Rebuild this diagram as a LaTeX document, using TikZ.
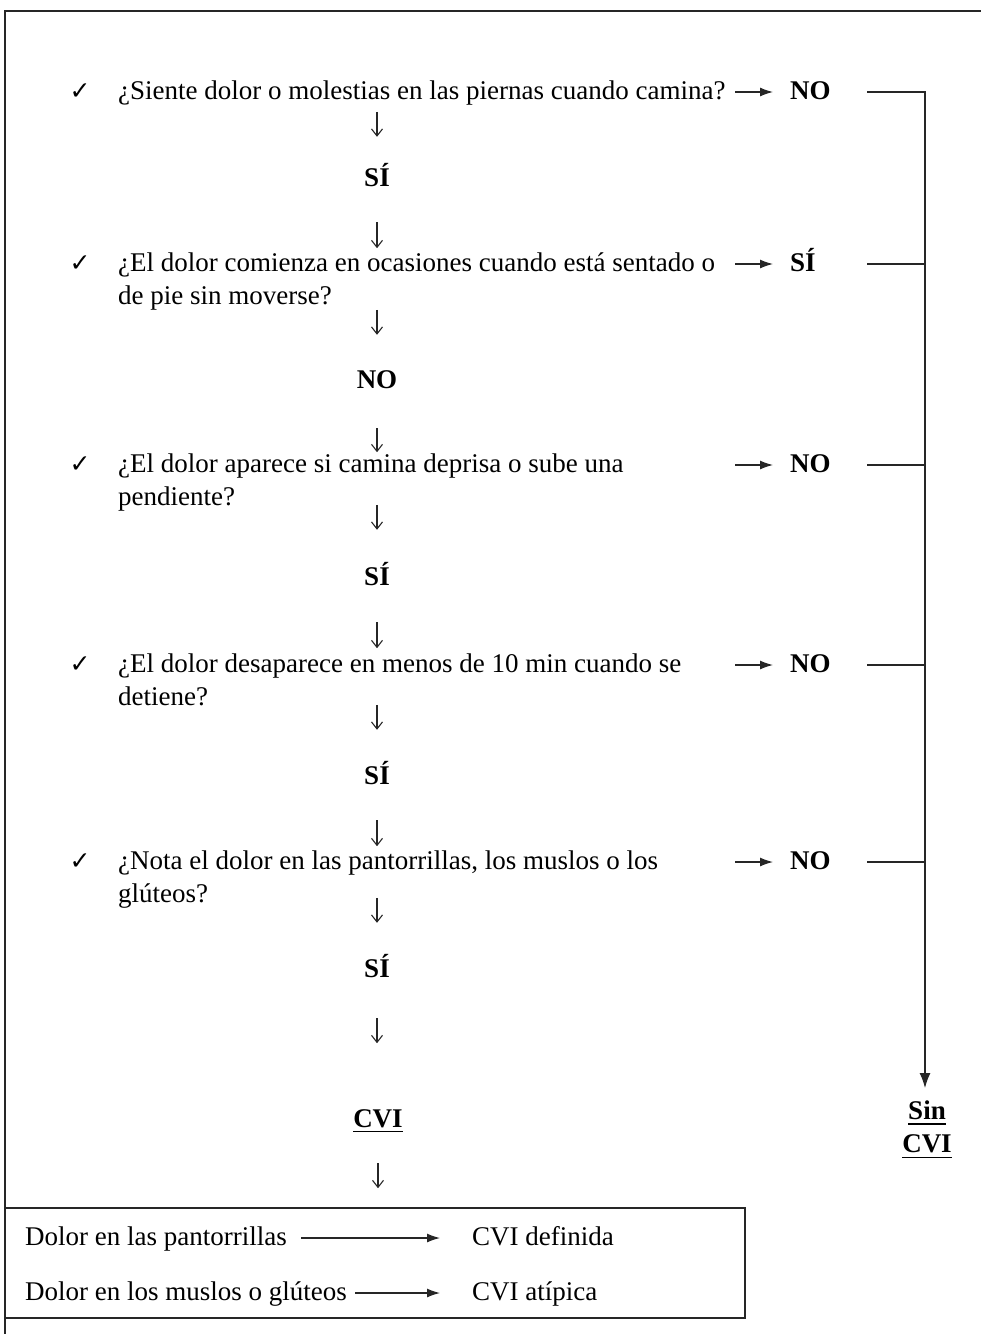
\documentclass[tikz,border=0pt]{standalone}
\usepackage{amsmath}
\usepackage{amssymb}
\usepackage{fontspec}
\setmainfont{Liberation Serif}
\newfontfamily\symbolfont{DejaVu Sans}
\usepackage{tikz}
\usetikzlibrary{arrows.meta}
\tikzset{
  txt/.style={inner sep=0pt,font=\fontsize{27}{33}\selectfont},
  question/.style={txt,anchor=base west,align=left},
  tick/.style={inner sep=0pt,anchor=base,font=\fontsize{25}{25}\selectfont\symbolfont},
  answer/.style={txt,anchor=base,text height=18pt,text depth=0pt,font=\fontsize{27}{33}\selectfont\bfseries},
  sideanswer/.style={answer,anchor=base west,text height=14pt,text depth=0pt},
  rowtext/.style={txt,anchor=base west,text height=14pt,text depth=0pt},
  frame/.style={line width=1.3pt,draw=black!85},
  link/.style={line width=1.2pt,draw=black!85},
  down/.style={line width=1.1pt,draw=black!85,-{Straight Barb[length=7pt,width=11pt]}},
  harrow/.style={link,-{Latex[length=13pt,width=9pt]}},
  varrow/.style={link,-{Latex[length=15pt,width=11pt]}}
}
\begin{document}
\begin{tikzpicture}[x=1pt,y=-1pt]
  \useasboundingbox (0,0) rectangle (981,1334);
  % outer frame
  \draw[frame] (5,1334) -- (5,11) -- (981,11);
  % questions
  \node[tick] (c1) at (80,99) {✓};
  \node[question] (q1) at (118,99) {¿Siente dolor o molestias en las piernas cuando camina?};
  \node[tick] (c2) at (80,271) {✓};
  \node[question] (q2) at (118,304) {¿El dolor comienza en ocasiones cuando está sentado o\\de pie sin moverse?};
  \node[tick] (c3) at (80,472) {✓};
  \node[question] (q3) at (118,505) {¿El dolor aparece si camina deprisa o sube una\\pendiente?};
  \node[tick] (c4) at (80,672) {✓};
  \node[question] (q4) at (118,705) {¿El dolor desaparece en menos de 10 min cuando se\\detiene?};
  \node[tick] (c5) at (80,869) {✓};
  \node[question] (q5) at (118,902) {¿Nota el dolor en las pantorrillas, los muslos o los\\glúteos?};
  % middle column
  \node[answer] (m1) at (377,186) {SÍ};
  \node[answer] (m2) at (377,388) {NO};
  \node[answer] (m3) at (377,585) {SÍ};
  \node[answer] (m4) at (377,784) {SÍ};
  \node[answer] (m5) at (377,977) {SÍ};
  \node[answer] (cvi) at (378,1127) {\underline{CVI}};
  \draw[down] ([yshift=56pt]m1.north) -- ([yshift=31pt]m1.north);
  \draw[down] ([yshift=-36pt]m1.south) -- ([yshift=-62pt]m1.south);
  \draw[down] ([yshift=60pt]m2.north) -- ([yshift=35pt]m2.north);
  \draw[down] ([yshift=-40pt]m2.south) -- ([yshift=-64pt]m2.south);
  \draw[down] ([yshift=62pt]m3.north) -- ([yshift=37pt]m3.north);
  \draw[down] ([yshift=-37pt]m3.south) -- ([yshift=-63pt]m3.south);
  \draw[down] ([yshift=61pt]m4.north) -- ([yshift=36pt]m4.north);
  \draw[down] ([yshift=-36pt]m4.south) -- ([yshift=-62pt]m4.south);
  \draw[down] ([yshift=61pt]m5.north) -- ([yshift=36pt]m5.north);
  \draw[down] ([yshift=-41pt]m5.south) -- ([yshift=-66pt]m5.south);
  \draw[down] ([yshift=-36pt]cvi.south) -- ([yshift=-61pt]cvi.south);
  % right column
  \node[sideanswer] (a1) at (790,99) {NO};
  \node[sideanswer] (a2) at (790,271) {SÍ};
  \node[sideanswer] (a3) at (790,472) {NO};
  \node[sideanswer] (a4) at (790,672) {NO};
  \node[sideanswer] (a5) at (790,869) {NO};
  \node[answer,text height=,text depth=,anchor=north,align=center] (sin) at (927,1101) {\underline{Sin}\\\underline{CVI}};
  \coordinate (rail) at ([xshift=135pt]a1.west);
  \draw[harrow] ([xshift=-55pt]a1.west) -- ([xshift=-17pt]a1.west);
  \draw[harrow] ([xshift=-55pt]a2.west) -- ([xshift=-17pt]a2.west);
  \draw[harrow] ([xshift=-55pt]a3.west) -- ([xshift=-17pt]a3.west);
  \draw[harrow] ([xshift=-55pt]a4.west) -- ([xshift=-17pt]a4.west);
  \draw[harrow] ([xshift=-55pt]a5.west) -- ([xshift=-17pt]a5.west);
  \draw[varrow,shorten >=13pt] ([xshift=77pt]a1.west) -- (rail) -- (rail |- sin.north);
  \draw[link] ([xshift=77pt]a2.west) -- (rail |- a2.west);
  \draw[link] ([xshift=77pt]a3.west) -- (rail |- a3.west);
  \draw[link] ([xshift=77pt]a4.west) -- (rail |- a4.west);
  \draw[link] ([xshift=77pt]a5.west) -- (rail |- a5.west);
  % result box
  \draw[frame] (5,1208) rectangle (745,1318);
  \node[rowtext] (l1) at (25,1245) {Dolor en las pantorrillas};
  \node[rowtext] (r1) at (472,1245) {CVI definida};
  \node[rowtext] (l2) at (25,1300) {Dolor en los muslos o glúteos};
  \node[rowtext] (r2) at (472,1300) {CVI atípica};
  \draw[harrow,shorten <=14pt,shorten >=32pt] (l1.east) -- (r1.west);
  \draw[harrow,shorten <=8pt,shorten >=32pt] (l2.east) -- (r2.west);
\end{tikzpicture}
\end{document}
